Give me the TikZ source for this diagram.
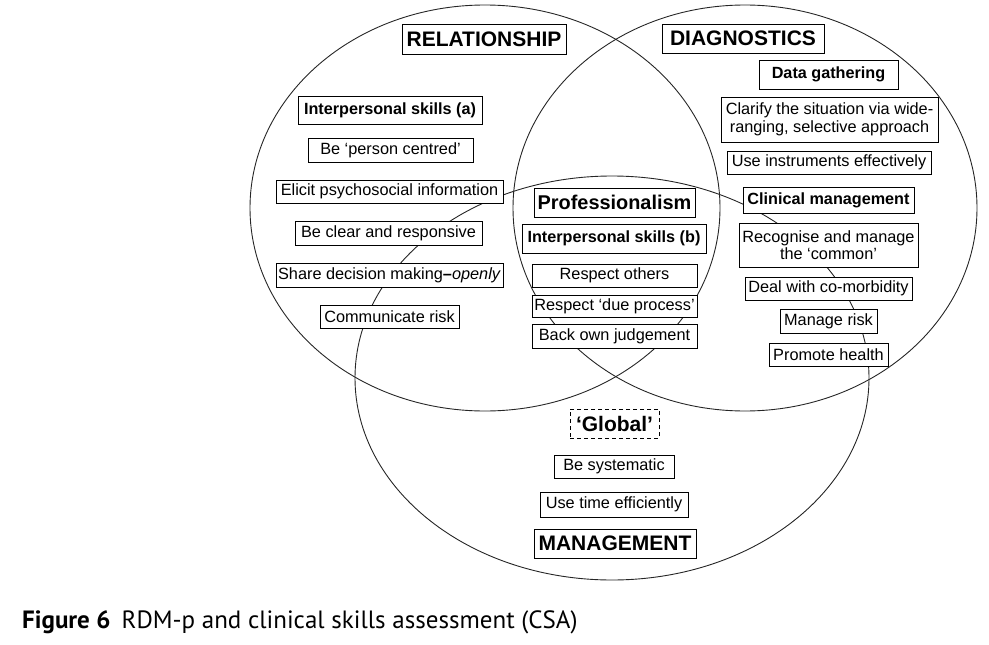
\documentclass[tikz,border=0pt]{standalone}
\usepackage{fontspec}
\setmainfont{Liberation Sans}
\newfontfamily\capfont{PT Sans}
\begin{document}
\begin{tikzpicture}[x=1pt,y=-1pt,
  ring/.style={draw=black!85, line width=0.9pt},
  tbox/.style={draw=black, line width=1pt, fill=white, inner sep=0pt, align=center,
    font=\fontsize{16.3}{17.5}\selectfont},
  subhead/.style={tbox, font=\fontsize{16.2}{18}\selectfont\bfseries},
  mainhead/.style={tbox, font=\fontsize{21}{24}\selectfont\bfseries},
  profhead/.style={tbox, font=\fontsize{19.9}{22}\selectfont\bfseries},
  dashbox/.style={mainhead, dash pattern=on 4pt off 3pt},
  sz/.style 2 args={minimum width=#1pt, minimum height=#2pt}]
\useasboundingbox (0,0) rectangle (989,645);
% the three sets
\draw[ring] (485,208) ellipse [x radius=235pt, y radius=203pt];
\draw[ring] (745,208) ellipse [x radius=232pt, y radius=203pt];
\draw[ring] (612,378) ellipse [x radius=257pt, y radius=202pt];
% RELATIONSHIP
\node[mainhead, sz={164}{30}] (rel) at (484,39) {RELATIONSHIP};
\node[subhead, sz={184}{28}] (ipa) at (390,110) {Interpersonal skills (a)};
\node[tbox, sz={165}{24}] (pc) at (390.5,150) {Be ‘person centred’};
\node[tbox, sz={227}{23}] (eli) at (389.5,191.5) {Elicit psychosocial information};
\node[tbox, sz={187}{24}] (clr) at (388.5,233) {Be clear and responsive};
\node[tbox, sz={227}{24}] (shr) at (389.5,275) {Share decision making\textbf{–}\textit{openly}};
\node[tbox, sz={139}{23}] (com) at (389.5,316.5) {Communicate risk};
% DIAGNOSTICS
\node[mainhead, sz={162}{29}] (dia) at (743,38.5) {DIAGNOSTICS};
\node[subhead, sz={139}{29}] (dat) at (828.5,74.5) {Data gathering};
\node[tbox, sz={217}{45}] (cla) at (829.5,119.5) {Clarify the situation via wide-\\ranging, selective approach};
\node[tbox, sz={204}{23}] (ins) at (829,162.5) {Use instruments effectively};
\node[subhead, sz={171}{26}] (cli) at (828.5,200) {Clinical management};
\node[tbox, sz={179}{44}] (rec) at (828.5,245) {Recognise and manage\\the ‘common’};
\node[tbox, sz={167}{23}] (dea) at (828.5,288.5) {Deal with co-morbidity};
\node[tbox, sz={97}{24}] (mri) at (828.5,321) {Manage risk};
\node[tbox, sz={119}{23}] (pro) at (828.5,354.5) {Promote health};
% Professionalism
\node[profhead, sz={161}{29}] (prf) at (614.5,202.5) {Professionalism};
\node[subhead, sz={184}{29}] (ipb) at (614,238.5) {Interpersonal skills (b)};
\node[tbox, sz={165}{23}] (rso) at (614.5,275.5) {Respect others};
\node[tbox, sz={165}{22}] (rdp) at (614.5,306) {Respect ‘due process’};
\node[tbox, sz={165}{24}] (boj) at (614.5,336) {Back own judgement};
% MANAGEMENT
\node[dashbox, sz={89}{29}] (glo) at (614.5,423.5) {‘Global’};
\node[tbox, sz={120}{23}] (sys) at (614,466.5) {Be systematic};
\node[tbox, sz={148}{25}] (tim) at (614,504.5) {Use time efficiently};
\node[mainhead, sz={162}{29}] (man) at (615,543.5) {MANAGEMENT};
% caption
\node[anchor=base west, inner sep=0pt, font=\capfont\fontsize{25}{28}\selectfont] (cap) at (22,628)
  {\textbf{Figure 6}\hspace{0.45em}RDM-p and clinical skills assessment (CSA)};
\end{tikzpicture}
\end{document}
